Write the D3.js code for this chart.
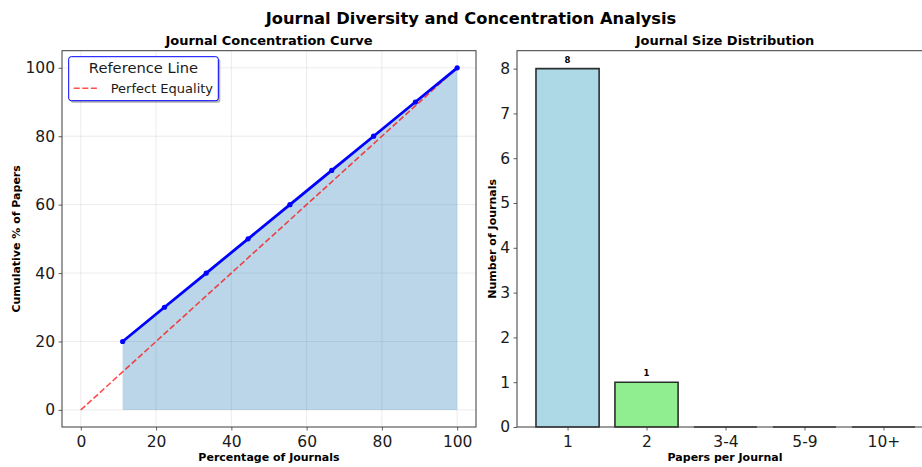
<!DOCTYPE html>
<html>
<head>
<meta charset="utf-8">
<script src="https://cdn.jsdelivr.net/npm/d3@7/dist/d3.min.js"></script>
<style>
  html, body { margin: 0; padding: 0; background: #fff; }
  svg { display: block; font-family: "DejaVu Sans", sans-serif; }
</style>
</head>
<body>
<svg id="chart" width="922" height="467"></svg>
<script>
// Concentration curve: share of journals vs cumulative share of papers
const journalPct = [11.111, 22.222, 33.333, 44.444, 55.556, 66.667, 77.778, 88.889, 100];
const cumPaperPct = [20, 30, 40, 50, 60, 70, 80, 90, 100];
const equalityX = [0, 100];
const equalityY = [0, 100];
const curveTicks = [0, 20, 40, 60, 80, 100];

// Journal size distribution
const sizeBins = ["1", "2", "3-4", "5-9", "10+"];
const journalCounts = [8, 1, 0, 0, 0];
const binColors = ["#add8e6", "#90ee90", "#f0e68c", "#ffa07a", "#f08080"];
const countTicks = [0, 1, 2, 3, 4, 5, 6, 7, 8];

const svg = d3.select("#chart");

svg.append("text")
  .attr("x", 471).attr("y", 24)
  .attr("text-anchor", "middle")
  .attr("font-size", 16.3).attr("font-weight", "bold")
  .text("Journal Diversity and Concentration Analysis");

const spineColor = "#3a3a3a";
const tickFont = 15.5;

// ---------- left panel ----------
const L = { x0: 62, x1: 476, y0: 50.7, y1: 427 };
const xL = d3.scaleLinear().domain([-5, 105]).range([L.x0, L.x1]);
const yL = d3.scaleLinear().domain([-5, 105]).range([L.y1, L.y0]);

const gL = svg.append("g");

// grid
gL.append("g").selectAll("line").data(curveTicks).join("line")
  .attr("x1", d => xL(d)).attr("x2", d => xL(d))
  .attr("y1", L.y0).attr("y2", L.y1)
  .attr("stroke", "#b0b0b0").attr("stroke-opacity", 0.3).attr("stroke-width", 0.8);
gL.append("g").selectAll("line").data(curveTicks).join("line")
  .attr("y1", d => yL(d)).attr("y2", d => yL(d))
  .attr("x1", L.x0).attr("x2", L.x1)
  .attr("stroke", "#b0b0b0").attr("stroke-opacity", 0.3).attr("stroke-width", 0.8);

const pts = journalPct.map((x, i) => [x, cumPaperPct[i]]);

// shaded area under curve
gL.append("path")
  .datum(pts)
  .attr("d", d3.area().x(d => xL(d[0])).y0(yL(0)).y1(d => yL(d[1])))
  .attr("fill", "#1f77b4").attr("fill-opacity", 0.3);

// perfect equality reference
gL.append("path")
  .datum(equalityX.map((x, i) => [x, equalityY[i]]))
  .attr("d", d3.line().x(d => xL(d[0])).y(d => yL(d[1])))
  .attr("stroke", "red").attr("stroke-opacity", 0.7)
  .attr("stroke-width", 1.6).attr("stroke-dasharray", "6,2.6")
  .attr("fill", "none");

// curve
gL.append("path")
  .datum(pts)
  .attr("d", d3.line().x(d => xL(d[0])).y(d => yL(d[1])))
  .attr("stroke", "blue").attr("stroke-width", 2.8).attr("fill", "none");
gL.append("g").selectAll("circle").data(pts).join("circle")
  .attr("cx", d => xL(d[0])).attr("cy", d => yL(d[1]))
  .attr("r", 2.6).attr("fill", "blue");

// axes
const axL = gL.append("g").attr("transform", `translate(0,${L.y1})`)
  .call(d3.axisBottom(xL).tickValues(curveTicks).tickSize(3.5).tickPadding(3.5));
const ayL = gL.append("g").attr("transform", `translate(${L.x0},0)`)
  .call(d3.axisLeft(yL).tickValues(curveTicks).tickSize(3.5).tickPadding(3.5));
[axL, ayL].forEach(a => {
  a.select(".domain").remove();
  a.selectAll("line").attr("stroke", spineColor).attr("stroke-width", 0.8);
  a.selectAll("text").attr("font-size", tickFont).attr("fill", "#1a1a1a")
    .attr("font-family", "DejaVu Sans");
});
axL.selectAll("text").attr("dy", "0.85em");

gL.append("rect")
  .attr("x", L.x0).attr("y", L.y0)
  .attr("width", L.x1 - L.x0).attr("height", L.y1 - L.y0)
  .attr("fill", "none").attr("stroke", spineColor).attr("stroke-width", 1);

gL.append("text")
  .attr("x", (L.x0 + L.x1) / 2).attr("y", 45)
  .attr("text-anchor", "middle").attr("font-size", 13).attr("font-weight", "bold")
  .text("Journal Concentration Curve");
gL.append("text")
  .attr("x", (L.x0 + L.x1) / 2).attr("y", 461)
  .attr("text-anchor", "middle").attr("font-size", 11).attr("font-weight", "bold")
  .text("Percentage of Journals");
gL.append("text")
  .attr("transform", `translate(20,${(L.y0 + L.y1) / 2}) rotate(-90)`)
  .attr("text-anchor", "middle").attr("font-size", 11).attr("font-weight", "bold")
  .text("Cumulative % of Papers");

// legend
const lg = gL.append("g").attr("transform", "translate(68.7,56.7)");
lg.append("rect").attr("x", 2).attr("y", 2).attr("width", 149.6).attr("height", 44)
  .attr("rx", 2.5).attr("fill", "#000").attr("fill-opacity", 0.3);
lg.append("rect").attr("width", 149.6).attr("height", 44).attr("rx", 2.5)
  .attr("fill", "#fff").attr("stroke", "blue").attr("stroke-width", 1);
lg.append("text").attr("x", 74.8).attr("y", 16.3)
  .attr("text-anchor", "middle").attr("font-size", 14.7).attr("fill", "#1a1a1a")
  .text("Reference Line");
lg.append("line").attr("x1", 5).attr("x2", 29).attr("y1", 31.5).attr("y2", 31.5)
  .attr("stroke", "red").attr("stroke-opacity", 0.7)
  .attr("stroke-width", 1.6).attr("stroke-dasharray", "6,2.6");
lg.append("text").attr("x", 42).attr("y", 36)
  .attr("font-size", 13).attr("fill", "#1a1a1a")
  .text("Perfect Equality");

// ---------- right panel ----------
const R = { x0: 517, x1: 934, y0: 50.7, y1: 427 };
const xR = d3.scaleLinear().domain([-0.64, 4.64]).range([R.x0, R.x1]);
const yR = d3.scaleLinear().domain([0, 8.4]).range([R.y1, R.y0]);
const gR = svg.append("g");

// bars drawn as closed paths so empty bins still show their outline at zero
gR.append("g").selectAll("path").data(sizeBins).join("path")
  .attr("d", (d, i) => {
    const x0 = xR(i - 0.4), x1 = xR(i + 0.4);
    const y0 = yR(0), y1 = yR(journalCounts[i]);
    return `M${x0},${y0}L${x0},${y1}L${x1},${y1}L${x1},${y0}Z`;
  })
  .attr("fill", (d, i) => binColors[i])
  .attr("stroke", "#000").attr("stroke-opacity", 0.8).attr("stroke-width", 1.6);

gR.append("g").selectAll("text").data(sizeBins).join("text")
  .filter((d, i) => journalCounts[i] > 0)
  .attr("x", d => xR(sizeBins.indexOf(d)))
  .attr("y", d => yR(journalCounts[sizeBins.indexOf(d)]) - 6)
  .attr("text-anchor", "middle").attr("font-size", 8.5).attr("font-weight", "bold")
  .text(d => journalCounts[sizeBins.indexOf(d)]);

const axR = gR.append("g").attr("transform", `translate(0,${R.y1})`)
  .call(d3.axisBottom(xR).tickValues(d3.range(sizeBins.length))
    .tickFormat(i => sizeBins[i]).tickSize(3.5).tickPadding(3.5));
const ayR = gR.append("g").attr("transform", `translate(${R.x0},0)`)
  .call(d3.axisLeft(yR).tickValues(countTicks).tickFormat(d3.format("d"))
    .tickSize(3.5).tickPadding(3.5));
[axR, ayR].forEach(a => {
  a.select(".domain").remove();
  a.selectAll("line").attr("stroke", spineColor).attr("stroke-width", 0.8);
  a.selectAll("text").attr("font-size", tickFont).attr("fill", "#1a1a1a")
    .attr("font-family", "DejaVu Sans");
});
axR.selectAll("text").attr("dy", "0.85em");

gR.append("rect")
  .attr("x", R.x0).attr("y", R.y0)
  .attr("width", R.x1 - R.x0).attr("height", R.y1 - R.y0)
  .attr("fill", "none").attr("stroke", spineColor).attr("stroke-width", 1);

gR.append("text")
  .attr("x", 725).attr("y", 45)
  .attr("text-anchor", "middle").attr("font-size", 13).attr("font-weight", "bold")
  .text("Journal Size Distribution");
gR.append("text")
  .attr("x", 725).attr("y", 461)
  .attr("text-anchor", "middle").attr("font-size", 11).attr("font-weight", "bold")
  .text("Papers per Journal");
gR.append("text")
  .attr("transform", `translate(496,${(R.y0 + R.y1) / 2}) rotate(-90)`)
  .attr("text-anchor", "middle").attr("font-size", 11).attr("font-weight", "bold")
  .text("Number of Journals");
</script>
</body>
</html>
